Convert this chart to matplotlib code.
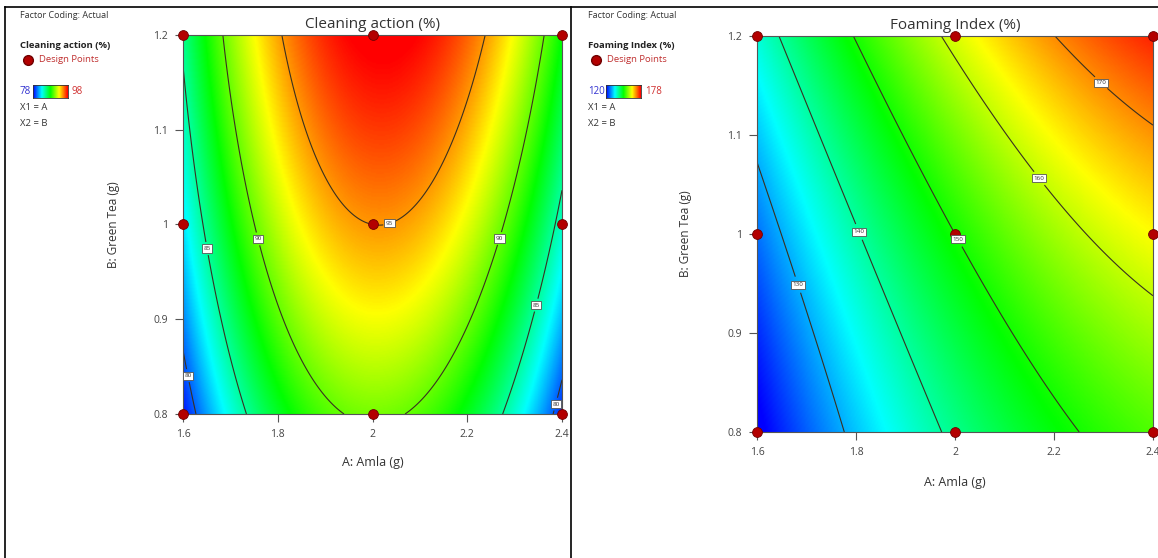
import numpy as np
import matplotlib
matplotlib.use("Agg")
import matplotlib.pyplot as plt
from matplotlib.colors import LinearSegmentedColormap
from matplotlib.lines import Line2D

# ---- data ----
amla_ticks = [1.6, 1.8, 2.0, 2.2, 2.4]
tea_ticks = [0.8, 0.9, 1.0, 1.1, 1.2]
amla_center, amla_step = 2.0, 0.4
tea_center, tea_step = 1.0, 0.2
design_amla = [1.6, 2.0, 2.4, 1.6, 2.0, 2.4, 1.6, 2.0, 2.4]
design_tea = [0.8, 0.8, 0.8, 1.0, 1.0, 1.0, 1.2, 1.2, 1.2]

# quadratic model coefficients in coded units: [b0, A, B, AB, A^2, B^2]
cleaning_coef = [95.0, 0.8, 4.0, 0.55, -11.6, -0.7]
foaming_coef = [150.0, 18.4, 10.1, 1.2, -5.0, 1.28]

cleaning_levels = [80, 85, 90, 95]
foaming_levels = [130, 140, 150, 160, 170]
cleaning_range = [78, 98]
foaming_range = [120, 178]

cleaning_label_pos = [(2.035, 1.003), (1.76, 0.985), (2.27, 0.985), (1.655, 0.975),
                      (2.345, 0.915), (1.605, 0.84), (2.39, 0.81)]
foaming_label_pos = [(1.69, 0.95), (1.82, 1.005), (2.025, 1.0), (2.18, 1.06), (2.29, 1.15)]

titles = ["Cleaning action (%)", "Foaming Index (%)"]

cmap = LinearSegmentedColormap.from_list(
    "de", ["#0000ff", "#00ffff", "#00ff00", "#ffff00", "#ff0000"])

W, H = 1158, 558
fig = plt.figure(figsize=(W / 100, H / 100), dpi=100)
plt.rcParams['font.family'] = ['Open Sans', 'DejaVu Sans']


def model(coef, A, B):
    x = (A - amla_center) / amla_step
    y = (B - tea_center) / tea_step
    b0, b1, b2, b12, b11, b22 = coef
    return b0 + b1 * x + b2 * y + b12 * x * y + b11 * x ** 2 + b22 * y ** 2


def fx(px):
    return px / W


def fy(py):
    return 1 - py / H


def panel(ax_rect, coef, levels, vrange, label_pos, title, leg_x, leg_y0):
    ax = fig.add_axes(ax_rect)
    A = np.linspace(1.6, 2.4, 300)
    B = np.linspace(0.8, 1.2, 300)
    AA, BB = np.meshgrid(A, B)
    Z = model(coef, AA, BB)
    ax.imshow(Z, extent=[1.6, 2.4, 0.8, 1.2], origin="lower", cmap=cmap,
              vmin=vrange[0], vmax=vrange[1], aspect="auto", interpolation="bilinear")
    cs = ax.contour(AA, BB, Z, levels=levels, colors="#3a3020", linewidths=0.8)
    ax.scatter(design_amla, design_tea, s=50, color="#b30000", edgecolors="#700000",
               linewidths=0.6, zorder=5, clip_on=False)
    lbls = ax.clabel(cs, fmt="%d", fontsize=4.5, manual=label_pos, inline=True,
                     inline_spacing=3)
    for t in lbls:
        t.set_rotation(0)
        t.set_bbox(dict(boxstyle="square,pad=0.25", fc="white", ec="#555555", lw=0.6))
        t.set_color("#333333")
        t.set_zorder(6)
    ax.set_xlim(1.6, 2.4)
    ax.set_ylim(0.8, 1.2)
    ax.set_xticks(amla_ticks)
    ax.set_xticklabels(["1.6", "1.8", "2", "2.2", "2.4"])
    ax.set_yticks(tea_ticks)
    ax.set_yticklabels(["0.8", "0.9", "1", "1.1", "1.2"])
    ax.tick_params(direction="out", length=6, width=0.8, labelsize=7.5,
                   colors="#555555", labelcolor="#444444", pad=5)
    for s in ax.spines.values():
        s.set_color("#555555")
        s.set_linewidth(0.8)
    ax.set_title(title, fontsize=11, color="#333333", pad=5)
    ax.set_xlabel("A: Amla (g)", fontsize=9, color="#333333")
    ax.set_ylabel("B: Green Tea (g)", fontsize=8.5, color="#333333")
    ax.xaxis.set_label_coords(0.5, -0.11)
    ax.yaxis.set_label_coords(-0.165, 0.5)

    # legend block
    fig.text(fx(leg_x), fy(leg_y0), "Factor Coding: Actual", fontsize=6.5,
             color="#333333", va="center")
    fig.text(fx(leg_x), fy(leg_y0 + 30), title, fontsize=6.8, weight="bold",
             color="#222222", va="center")
    fig.add_artist(Line2D([fx(leg_x + 8)], [fy(leg_y0 + 45)], marker="o", markersize=7,
                          color="#b30000", markeredgecolor="#700000", lw=0))
    fig.text(fx(leg_x + 19), fy(leg_y0 + 45), "Design Points", fontsize=6.8,
             color="#c03030", va="center")
    lab_lo = "%d" % vrange[0]
    fig.text(fx(leg_x), fy(leg_y0 + 76), lab_lo, fontsize=7, color="#3030d0", va="center")
    off = 13 if len(lab_lo) == 2 else 18
    cax = fig.add_axes([fx(leg_x + off), fy(leg_y0 + 83), 35 / W, 13 / H])
    cax.imshow(np.linspace(0, 1, 100)[None, :], cmap=cmap, aspect="auto")
    cax.set_xticks([])
    cax.set_yticks([])
    for s in cax.spines.values():
        s.set_color("#333333")
        s.set_linewidth(0.6)
    fig.text(fx(leg_x + off + 39), fy(leg_y0 + 76), "%d" % vrange[1], fontsize=7,
             color="#d03030", va="center")
    fig.text(fx(leg_x), fy(leg_y0 + 92), "X1 = A", fontsize=6.8, color="#333333", va="center")
    fig.text(fx(leg_x), fy(leg_y0 + 108), "X2 = B", fontsize=6.8, color="#333333", va="center")
    return ax


panel([fx(183), fy(414), 379 / W, 379 / H], cleaning_coef, cleaning_levels,
      cleaning_range, cleaning_label_pos, titles[0], 20, 15)
panel([fx(757), fy(432), 396 / W, 396 / H], foaming_coef, foaming_levels,
      foaming_range, foaming_label_pos, titles[1], 588, 15)

# panel frames
for xs, ys in [([fx(5), fx(5)], [0, fy(7)]), ([fx(5), 1], [fy(7), fy(7)]),
               ([fx(571), fx(571)], [0, fy(7)])]:
    fig.add_artist(Line2D(xs, ys, color="black", lw=1.2))

fig.savefig("out.png", dpi=100)
